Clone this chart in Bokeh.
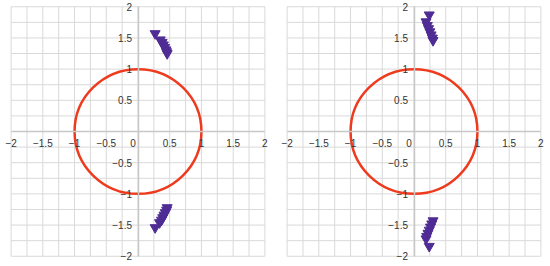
from bokeh.plotting import figure
from bokeh.layouts import row
from bokeh.models import FixedTicker, Range1d
from bokeh.embed import file_html
from bokeh.resources import INLINE

# data
left_x = [0.27, 0.35, 0.38, 0.40, 0.42, 0.44, 0.45, 0.46,
          0.46, 0.45, 0.43, 0.41, 0.39, 0.37, 0.34, 0.27]
left_y = [1.57, 1.47, 1.43, 1.39, 1.35, 1.31, 1.28, 1.25,
          -1.22, -1.26, -1.30, -1.34, -1.38, -1.42, -1.46, -1.54]
right_x = [0.24, 0.19, 0.21, 0.23, 0.25, 0.27, 0.29, 0.30,
           0.30, 0.28, 0.26, 0.24, 0.22, 0.20, 0.19, 0.24]
right_y = [1.87, 1.76, 1.70, 1.65, 1.60, 1.55, 1.50, 1.46,
           -1.43, -1.48, -1.53, -1.58, -1.63, -1.68, -1.72, -1.84]

major_ticks = [-2, -1.5, -1, -0.5, 0, 0.5, 1, 1.5, 2]
minor_ticks = [-1.75, -1.25, -0.75, -0.25, 0.25, 0.75, 1.25, 1.75]
tick_labels = ["\u22122", "\u22121.5", "\u22121", "\u22120.5", "0\u2002\u2002",
               "0.5", "1", "1.5", "2"]

circle_color = "#ee3a1d"
marker_color = "#4f2c94"
grid_color = "#d9d9d9"
axis_color = "#c8c8c8"
font = "Liberation Sans"


def make(xs, ys, border_left, border_right):
    p = figure(output_backend="svg", toolbar_location=None,
               frame_width=269, frame_height=262,
               min_border_left=border_left, min_border_right=border_right,
               min_border_top=0, min_border_bottom=0,
               x_range=Range1d(-2.12, 2.12), y_range=Range1d(-2.1, 2.1),
               outline_line_color=None)
    p.background_fill_color = "white"
    p.xgrid.visible = False
    p.ygrid.visible = False
    all_ticks = sorted(major_ticks + minor_ticks)
    lo, hi = major_ticks[0], major_ticks[-1]
    p.segment(x0=all_ticks, y0=[lo] * len(all_ticks), x1=all_ticks,
              y1=[hi] * len(all_ticks), line_color=grid_color, line_width=1)
    p.segment(x0=[lo] * len(all_ticks), y0=all_ticks, x1=[hi] * len(all_ticks),
              y1=all_ticks, line_color=grid_color, line_width=1)
    for ax in (p.xaxis, p.yaxis):
        ax.ticker = FixedTicker(ticks=major_ticks, minor_ticks=minor_ticks)
        ax.fixed_location = 0
        ax.bounds = (lo, hi)
        ax.axis_line_color = axis_color
        ax.axis_line_width = 1.5
        ax.major_tick_line_color = None
        ax.minor_tick_line_color = None
        ax.major_tick_out = 0
        ax.major_tick_in = 0
        ax.minor_tick_out = 0
        ax.minor_tick_in = 0
        ax.major_label_text_font = font
        ax.major_label_text_font_size = "10px"
        ax.major_label_text_color = "#333333"
        ax.major_label_standoff = 6
    p.xaxis.major_label_overrides = {t: l for t, l in zip(major_ticks, tick_labels)}
    ylab = {t: l for t, l in zip(major_ticks, tick_labels)}
    ylab[0] = ""
    p.yaxis.major_label_overrides = ylab
    p.ellipse(x=[0], y=[0], width=[2], height=[2], fill_color=None,
              line_color=circle_color, line_width=2.5)
    p.scatter(xs, ys, marker="inverted_triangle", size=10,
              fill_color=marker_color, line_color=marker_color)
    return p


p1 = make(left_x, left_y, 3, 7)
p2 = make(right_x, right_y, 0, 0)
layout = row(p1, p2)
open("out.html", "w").write(file_html(layout, INLINE))
